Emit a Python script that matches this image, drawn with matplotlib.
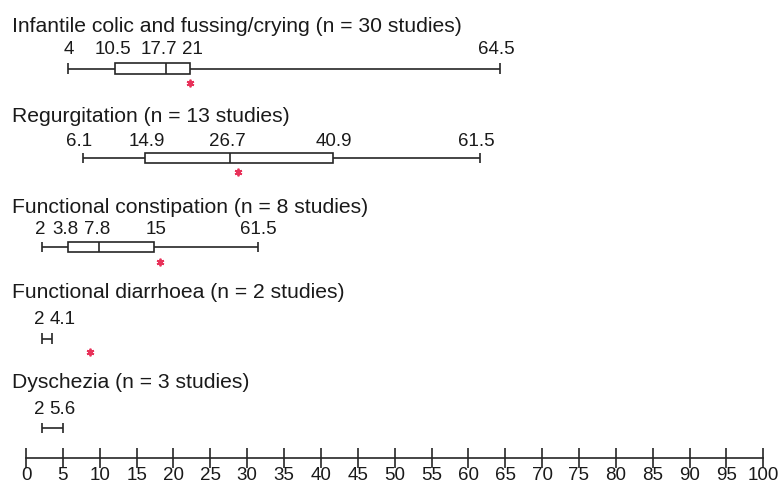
"""
plot.py - prevalence ranges of functional GI disorders in infants
"""
import matplotlib
matplotlib.use('Agg')
import matplotlib.pyplot as plt
from matplotlib.patches import Rectangle

# categories and printed values
categories = [
    'Infantile colic and fussing/crying (n = 30 studies)',
    'Regurgitation (n = 13 studies)',
    'Functional constipation (n = 8 studies)',
    'Functional diarrhoea (n = 2 studies)',
    'Dyschezia (n = 3 studies)',
]
value_labels = [
    ['4', '10.5', '17.7', '21', '64.5'],
    ['6.1', '14.9', '26.7', '40.9', '61.5'],
    ['2', '3.8', '7.8', '15', '61.5'],
    ['2', '4.1'],
    ['2', '5.6'],
]

# positions of the drawn marks (%)
whisk_lo = [5.74, 7.73, 2.13, 2.13, 2.13]
q1 = [12.07, 16.2, 5.73, None, None]
median = [18.99, 27.7, 9.9, None, None]
q3 = [22.2, 41.6, 17.4, None, None]
whisk_hi = [64.3, 61.6, 31.4, 3.49, 5.06]
star = [22.2, 28.75, 18.2, 8.68, None]

ticks = list(range(0, 101, 5))

# layout (y in pixels from the top, label shifts in pixels)
title_y = [31.7, 121.7, 213.3, 298.3, 388.3]
label_y = [50, 142, 229, 319, 409]
mark_y = [68.5, 158, 247, 338.5, 428]
star_y = [83.3, 172, 261.7, 352.3]
label_shift = [
    [0, -2, -7, 3, -4],
    [-3.5, 1, -3, 1, -4],
    [-1, -3, -1.5, 1.5, 0.6],
    [-2, 10.5],
    [-2, -0.5],
]

W, H = 779, 484
LINE = '#262626'
STAR = '#e8325a'
plt.rcParams['font.family'] = ['Liberation Sans', 'DejaVu Sans']

fig = plt.figure(figsize=(W / 100, H / 100), dpi=100)
ax = fig.add_axes([26 / W, 0, (763.3 - 26) / W, 1])
ax.set_xlim(0, 100)
ax.set_ylim(H, 0)

box_h = 10.5
for i, name in enumerate(categories):
    ax.text(-14 / 7.373, title_y[i], name, fontsize=15.2, va='baseline', ha='left', color='#1a1a1a')

    y = mark_y[i]
    lo, hi = whisk_lo[i], whisk_hi[i]
    ax.hlines(y, lo, hi, color=LINE, lw=1.2, zorder=2)
    ax.vlines([lo, hi], y - box_h / 2, y + box_h / 2, color=LINE, lw=1.2, zorder=2)
    marks = [lo, hi]
    if q1[i] is not None:
        ax.add_patch(Rectangle((q1[i], y - box_h / 2), q3[i] - q1[i], box_h,
                               facecolor='white', edgecolor=LINE, lw=1.2, zorder=3))
        ax.vlines(median[i], y - box_h / 2, y + box_h / 2, color=LINE, lw=1.2, zorder=4)
        marks = [lo, q1[i], median[i], q3[i], hi]

    for x, txt, dx in zip(marks, value_labels[i], label_shift[i]):
        ax.annotate(txt, (x, label_y[i]), xytext=(dx * 0.72, 0), textcoords='offset points',
                    ha='center', va='center', fontsize=13.5, color='#1a1a1a')

    if star[i] is not None:
        ax.plot(star[i], star_y[i], marker=(6, 2, 0), ms=5.5, mew=1.3, color=STAR, zorder=5)

# bottom scale
for s in ['top', 'left', 'right']:
    ax.spines[s].set_visible(False)
ax.spines['bottom'].set_position(('data', 458.3))
ax.spines['bottom'].set_color(LINE)
ax.spines['bottom'].set_linewidth(1.2)
ax.set_xticks(ticks)
ax.set_yticks([])
ax.tick_params(axis='x', direction='inout', length=15, width=1.2, color=LINE,
               labelsize=13.5, pad=-1.5, labelcolor='#1a1a1a')
ax.patch.set_alpha(0)

fig.savefig('out.png', dpi=100)
